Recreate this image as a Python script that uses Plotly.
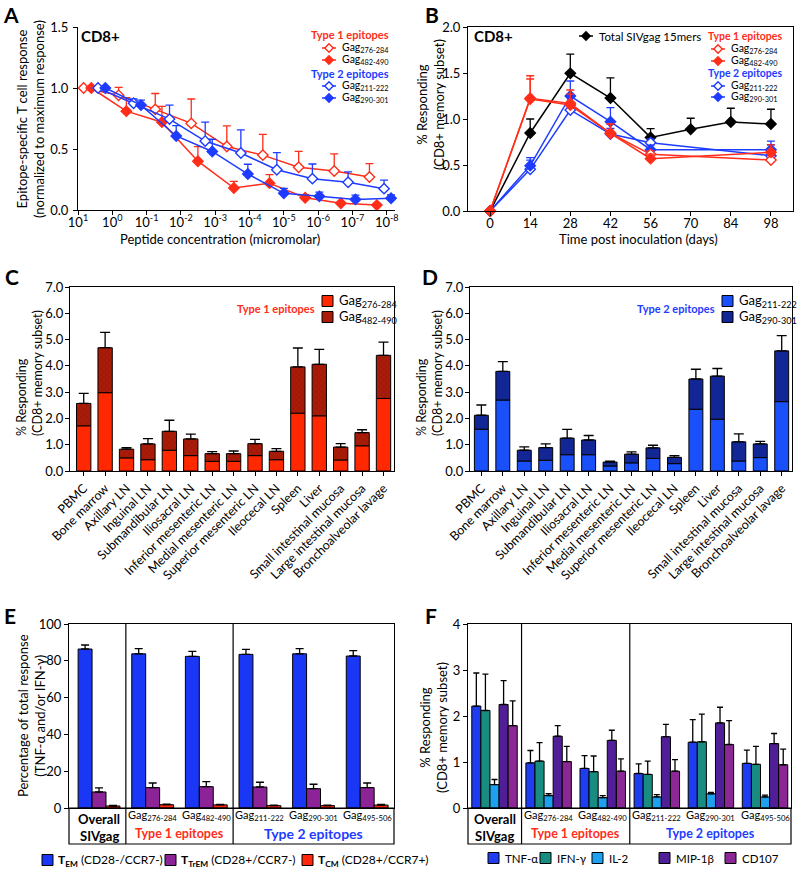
import plotly.graph_objects as go

FONT = "Lato, 'Open Sans', sans-serif"
RED = "rgb(255,45,25)"
BLUE = "rgb(30,60,255)"
BLACK = "black"

# ================= DATA =================
# Panel A: normalized dose response (concentration in micromolar)
a_conc_gag276 = [6.87, 0.656, 0.056, 5.0e-3, 4.6e-4, 4.1e-5, 3.7e-6, 3.4e-7, 3.2e-8]
a_resp_gag276 = [1.00, 0.94, 0.825, 0.71, 0.52, 0.45, 0.35, 0.32, 0.27]
a_sem_gag276 = [0.0, 0.065, 0.13, 0.20, 0.17, 0.17, 0.13, 0.14, 0.11]
a_conc_gag482 = [4.1, 0.39, 0.0357, 3.2e-3, 2.86e-4, 2.62e-5, 2.39e-6, 2.18e-7, 1.95e-8]
a_resp_gag482 = [1.00, 0.81, 0.72, 0.40, 0.18, 0.22, 0.10, 0.055, 0.04]
a_sem_gag482 = [0.0, 0.11, 0.13, 0.12, 0.055, 0.07, 0.025, 0.0, 0.0]
a_conc_gag211 = [2.61, 0.24, 0.0215, 1.96e-3, 1.79e-4, 1.6e-5, 1.47e-6, 1.34e-7, 1.2e-8]
a_resp_gag211 = [1.00, 0.875, 0.745, 0.565, 0.467, 0.33, 0.257, 0.227, 0.175]
a_sem_gag211 = [0.0, 0.035, 0.115, 0.155, 0.19, 0.14, 0.12, 0.085, 0.07]
a_conc_gag290 = [1.6, 0.146, 0.0137, 1.22e-3, 1.12e-4, 1.0e-5, 9.2e-7, 8.2e-8, 7.5e-9]
a_resp_gag290 = [1.00, 0.86, 0.607, 0.48, 0.295, 0.137, 0.112, 0.087, 0.096]
a_sem_gag290 = [0.0, 0.04, 0.085, 0.10, 0.08, 0.04, 0.035, 0.035, 0.027]
a_tick_exp = [1, 0, -1, -2, -3, -4, -5, -6, -7, -8]

# Panel B: kinetics (% responding)
b_days_total = [0, 14, 28, 42, 56, 70, 84, 98]
b_total = [0.0, 0.848, 1.496, 1.228, 0.80, 0.888, 0.967, 0.946]
b_total_sem = [0.0, 0.152, 0.21, 0.218, 0.095, 0.12, 0.15, 0.16]
b_days = [0, 14, 28, 42, 56, 98]
b_gag276 = [0.0, 1.225, 1.17, 0.845, 0.616, 0.554]
b_gag276_sem = [0.0, 0.245, 0.10, 0.10, 0.04, 0.05]
b_gag482 = [0.0, 1.217, 1.152, 0.845, 0.569, 0.638]
b_gag482_sem = [0.0, 0.218, 0.163, 0.105, 0.05, 0.08]
b_gag211 = [0.0, 0.453, 1.098, 0.837, 0.743, 0.60]
b_gag211_sem = [0.0, 0.10, 0.15, 0.06, 0.04, 0.12]
b_gag290 = [0.0, 0.493, 1.25, 0.971, 0.667, 0.667]
b_gag290_sem = [0.0, 0.087, 0.163, 0.152, 0.05, 0.093]

# Panels C/D: tissue distribution (stacked)
tissues = ["PBMC", "Bone marrow", "Axillary LN", "Inguinal LN", "Submandibular LN",
           "Iliosacral LN", "Inferior mesenteric LN", "Medial mesenteric LN",
           "Superior mesenteric LN", "Ileocecal LN", "Spleen", "Liver",
           "Small intestinal mucosa", "Large intestinal mucosa", "Bronchoalveolar lavage"]
c_gag276 = [1.72, 2.98, 0.50, 0.43, 0.79, 0.585, 0.37, 0.37, 0.585, 0.43, 2.20, 2.10, 0.42, 0.96, 2.76]
c_gag482 = [0.85, 1.71, 0.33, 0.60, 0.72, 0.635, 0.29, 0.29, 0.455, 0.32, 1.76, 1.96, 0.49, 0.50, 1.64]
c_sem = [0.38, 0.58, 0.06, 0.20, 0.42, 0.18, 0.08, 0.10, 0.16, 0.10, 0.72, 0.57, 0.13, 0.11, 0.50]
d_gag211 = [1.59, 2.70, 0.38, 0.41, 0.62, 0.62, 0.19, 0.31, 0.48, 0.28, 2.35, 1.97, 0.38, 0.51, 2.64]
d_gag290 = [0.53, 1.09, 0.41, 0.48, 0.63, 0.56, 0.15, 0.33, 0.40, 0.24, 1.15, 1.64, 0.73, 0.52, 1.93]
d_sem = [0.39, 0.37, 0.13, 0.14, 0.33, 0.17, 0.03, 0.09, 0.10, 0.065, 0.37, 0.29, 0.30, 0.10, 0.58]

# Panel E: memory subsets (% of total response)
groups = ["Overall SIVgag", "Gag276-284", "Gag482-490", "Gag211-222", "Gag290-301", "Gag495-506"]
group_labels = ["", "Gag<sub>276-284</sub>", "Gag<sub>482-490</sub>", "Gag<sub>211-222</sub>",
                "Gag<sub>290-301</sub>", "Gag<sub>495-506</sub>"]
e_tem = [86.4, 83.8, 82.4, 83.5, 83.8, 82.6]
e_tem_sem = [2.2, 2.8, 2.7, 2.7, 2.8, 2.9]
e_trem = [8.7, 11.1, 11.6, 11.4, 10.5, 11.1]
e_trem_sem = [2.2, 2.5, 2.7, 2.6, 2.4, 2.5]
e_tcm = [1.1, 1.8, 1.7, 1.3, 1.3, 1.6]
e_tcm_sem = [0.3, 0.3, 0.3, 0.3, 0.3, 0.3]

# Panel F: functions (% responding)
f_tnf = [2.215, 0.98, 0.86, 0.75, 1.43, 0.97]
f_tnf_sem = [0.72, 0.27, 0.28, 0.21, 0.49, 0.29]
f_ifn = [2.12, 1.02, 0.79, 0.73, 1.44, 0.95]
f_ifn_sem = [0.79, 0.40, 0.34, 0.29, 0.60, 0.39]
f_il2 = [0.51, 0.27, 0.225, 0.24, 0.31, 0.24]
f_il2_sem = [0.11, 0.04, 0.045, 0.05, 0.03, 0.04]
f_mip = [2.25, 1.56, 1.47, 1.55, 1.85, 1.40]
f_mip_sem = [0.52, 0.23, 0.22, 0.27, 0.34, 0.22]
f_cd107 = [1.79, 1.01, 0.80, 0.80, 1.38, 0.94]
f_cd107_sem = [0.54, 0.33, 0.27, 0.25, 0.52, 0.34]

# ================= HELPERS =================
W, H = 800, 877
def X(p):
    return p / W
def Y(p):
    return 1 - p / H

shapes = []
annotations = []

def txt(x, y, text, size=12, color=BLACK, bold=False, xanchor="center", xref="paper", **kw):
    annotations.append(dict(
        x=(X(x) if xref == "paper" else x), y=Y(y), xref=xref, yref="paper",
        text=(f"<b>{text}</b>" if bold else text), showarrow=False,
        xanchor=xanchor, yanchor="middle",
        font=dict(family=FONT, size=size, color=color), **kw))

def key_line(x0, x1, y, color, open_marker):
    shapes.append(dict(type="line", xref="paper", yref="paper", x0=X(x0), x1=X(x1),
                       y0=Y(y), y1=Y(y), line=dict(color=color, width=1.5)))
    cx, r = (x0 + x1) / 2, 4.2
    path = (f"M {X(cx - r)} {Y(y)} L {X(cx)} {Y(y - r)} L {X(cx + r)} {Y(y)} "
            f"L {X(cx)} {Y(y + r)} Z")
    shapes.append(dict(type="path", xref="paper", yref="paper", path=path,
                       fillcolor=("white" if open_marker else color),
                       line=dict(color=color, width=1.4)))

def key_square(x0, y, color, size=11):
    shapes.append(dict(type="rect", xref="paper", yref="paper", x0=X(x0), x1=X(x0 + size),
                       y0=Y(y - size / 2), y1=Y(y + size / 2), fillcolor=color,
                       line=dict(color="black", width=1)))

def up_err(vals, color=BLACK, width=4):
    return dict(type="data", symmetric=False, array=vals, arrayminus=[0] * len(vals),
                color=color, thickness=1.3, width=width)

def line_trace(x, y, sem, color, open_marker, xa, ya):
    return go.Scatter(
        x=x, y=y, mode="lines+markers", xaxis=xa, yaxis=ya, cliponaxis=False,
        line=dict(color=color, width=1.5),
        marker=dict(symbol="diamond", size=8, color=("white" if open_marker else color),
                    line=dict(color=color, width=1.4)),
        error_y=up_err(sem, color, 4), showlegend=False)

fig = go.Figure()

# ---- Panel A ----
for x, y, s, c, o in [(a_conc_gag276, a_resp_gag276, a_sem_gag276, RED, True),
                      (a_conc_gag482, a_resp_gag482, a_sem_gag482, RED, False),
                      (a_conc_gag211, a_resp_gag211, a_sem_gag211, BLUE, True),
                      (a_conc_gag290, a_resp_gag290, a_sem_gag290, BLUE, False)]:
    fig.add_trace(line_trace(x, y, s, c, o, "x", "y"))

# ---- Panel B ----
fig.add_trace(line_trace(b_days_total, b_total, b_total_sem, BLACK, False, "x2", "y2"))
for y, s, c, o in [(b_gag211, b_gag211_sem, BLUE, True), (b_gag290, b_gag290_sem, BLUE, False),
                   (b_gag276, b_gag276_sem, RED, True), (b_gag482, b_gag482_sem, RED, False)]:
    fig.add_trace(line_trace(b_days, y, s, c, o, "x2", "y2"))

# ---- Panels C / D ----
C_LIGHT, C_DARK = "rgb(255,40,0)", "rgb(170,28,8)"
D_LIGHT, D_DARK = "rgb(25,80,250)", "rgb(18,38,150)"
BAR_LINE = dict(color="black", width=1)
fig.add_trace(go.Bar(x=tissues, y=c_gag276, xaxis="x3", yaxis="y3", width=0.67,
                     marker=dict(color=C_LIGHT, line=BAR_LINE), showlegend=False))
fig.add_trace(go.Bar(x=tissues, y=c_gag482, base=c_gag276, xaxis="x3", yaxis="y3", width=0.67,
                     marker=dict(color=C_DARK, line=BAR_LINE,
                                 pattern=dict(shape="x", size=4, solidity=0.25,
                                              fgcolor="rgba(90,5,0,0.55)", fillmode="overlay")),
                     error_y=up_err(c_sem, BLACK, 5), showlegend=False))
fig.add_trace(go.Bar(x=tissues, y=d_gag211, xaxis="x4", yaxis="y4", width=0.65,
                     marker=dict(color=D_LIGHT, line=BAR_LINE), showlegend=False))
fig.add_trace(go.Bar(x=tissues, y=d_gag290, base=d_gag211, xaxis="x4", yaxis="y4", width=0.65,
                     marker=dict(color=D_DARK, line=BAR_LINE),
                     error_y=up_err(d_sem, BLACK, 5), showlegend=False))

# ---- Panel E ----
E_COLS = ["rgb(25,55,245)", "rgb(140,35,150)", "rgb(255,40,10)"]
ew = 0.26
for i, (vals, sem) in enumerate([(e_tem, e_tem_sem), (e_trem, e_trem_sem), (e_tcm, e_tcm_sem)]):
    fig.add_trace(go.Bar(x=groups, y=vals, xaxis="x5", yaxis="y5", width=ew, offset=-1.5 * ew + i * ew,
                         marker=dict(color=E_COLS[i], line=BAR_LINE),
                         error_y=up_err(sem, BLACK, 4), showlegend=False))

# ---- Panel F ----
F_COLS = ["rgb(30,60,240)", "rgb(25,140,130)", "rgb(30,160,240)", "rgb(80,30,150)", "rgb(140,40,150)"]
fw = 0.168
for i, (vals, sem) in enumerate([(f_tnf, f_tnf_sem), (f_ifn, f_ifn_sem), (f_il2, f_il2_sem),
                                 (f_mip, f_mip_sem), (f_cd107, f_cd107_sem)]):
    fig.add_trace(go.Bar(x=groups, y=vals, xaxis="x6", yaxis="y6", width=fw, offset=-2.5 * fw + i * fw,
                         marker=dict(color=F_COLS[i], line=BAR_LINE),
                         error_y=up_err(sem, BLACK, 3), showlegend=False))

# ================= AXES =================
def ax(**kw):
    d = dict(showline=True, linecolor="black", linewidth=1.2, ticks="outside", ticklen=4,
             tickwidth=1.2, tickcolor="black", showgrid=False, zeroline=False, automargin=False,
             tickfont=dict(family=FONT, size=13, color="black"))
    d.update(kw)
    return d

layout = dict(
    width=W, height=H, margin=dict(l=0, r=0, t=0, b=0, pad=0, autoexpand=False),
    paper_bgcolor="white", plot_bgcolor="white", barmode="overlay", showlegend=False,
    font=dict(family=FONT, color="black"),
    xaxis=ax(domain=[X(78), X(395)], anchor="y", type="log", range=[1.0, -8.24],
             tickvals=[10.0 ** k for k in a_tick_exp], ticklabelstandoff=-4,
             ticktext=[f"10<sup>{k}</sup>" for k in a_tick_exp]),
    yaxis=ax(domain=[Y(210), Y(27)], anchor="x", range=[0, 1.5], tickvals=[0, 0.5, 1.0, 1.5],
             tickformat=".1f", ticklabelstandoff=2),
    xaxis2=ax(domain=[X(468), X(793)], anchor="y2", range=[-7.7, 105.7], tickvals=b_days_total,
              mirror=True, ticklabelstandoff=-4),
    yaxis2=ax(domain=[Y(211), Y(27)], anchor="x2", range=[0, 2.0], dtick=0.5, tickformat=".1f",
              mirror=True),
    xaxis3=ax(domain=[X(70), X(394)], anchor="y3", range=[-0.64, 14.49], tickangle=-45,
              mirror=True, tickfont=dict(family=FONT, size=12.5, color="black")),
    yaxis3=ax(domain=[Y(471), Y(287)], anchor="x3", range=[0, 7], dtick=1, tickformat=".1f",
              mirror=True, ticklabelstandoff=-1),
    xaxis4=ax(domain=[X(470), X(792)], anchor="y4", range=[-0.53, 14.48], tickangle=-45,
              mirror=True, tickfont=dict(family=FONT, size=12.5, color="black")),
    yaxis4=ax(domain=[Y(471), Y(287)], anchor="x4", range=[0, 7], dtick=1, tickformat=".1f",
              mirror=True, ticklabelstandoff=-1),
    xaxis5=ax(domain=[X(69), X(394)], anchor="y5", range=[-0.56, 5.5], ticks="",
              showticklabels=False, mirror=True),
    yaxis5=ax(domain=[Y(808), Y(624)], anchor="x5", range=[0, 100], dtick=20, mirror=True),
    xaxis6=ax(domain=[X(468), X(791)], anchor="y6", range=[-0.49, 5.48], ticks="",
              showticklabels=False, mirror=True),
    yaxis6=ax(domain=[Y(808), Y(624)], anchor="x6", range=[0, 4], dtick=1, mirror=True),
)

# ================= TEXT & LEGENDS =================
for L, x, y in [("A", 11, 15), ("B", 432, 15), ("C", 12, 277), ("D", 430, 277), ("E", 10, 615), ("F", 431, 615)]:
    txt(x, y, L, size=21, bold=True)

txt(79, 36, "CD8+", size=15, bold=True, xanchor="left")
txt(472, 36, "CD8+", size=15, bold=True, xanchor="left")

# Axis titles
txt(31, 119, "Epitope-specific T cell response<br>(normalized to maximum response)", size=13, textangle=-90)
txt(220, 239, "Peptide concentration (micromolar)", size=13)
txt(430, 105, "% Responding<br>(CD8+ memory subset)", size=13, textangle=-90)
txt(638, 239, "Time post inoculation (days)", size=13)
txt(29, 373, "% Responding<br>(CD8+ memory subset)", size=12.5, textangle=-90, align="left")
txt(429, 373, "% Responding<br>(CD8+ memory subset)", size=12.5, textangle=-90, align="left")
txt(31, 716, "Percentage of total response<br>(TNF-α and/or IFN-γ)", size=13, textangle=-90)
txt(433, 728, "% Responding<br>(CD8+ memory subset)", size=13, textangle=-90)

# Legend A
txt(391, 35, "Type 1 epitopes", size=11, color=RED, bold=True, xanchor="right")
key_line(322, 336, 48, RED, True); txt(340, 48, "Gag<sub>276-284</sub>", size=10.5, xanchor="left")
key_line(322, 336, 60, RED, False); txt(340, 60, "Gag<sub>482-490</sub>", size=10.5, xanchor="left")
txt(391, 73, "Type 2 epitopes", size=11, color=BLUE, bold=True, xanchor="right")
key_line(322, 336, 86, BLUE, True); txt(340, 86, "Gag<sub>211-222</sub>", size=10.5, xanchor="left")
key_line(322, 336, 98, BLUE, False); txt(340, 98, "Gag<sub>290-301</sub>", size=10.5, xanchor="left")

# Legend B
key_line(579, 593, 36, BLACK, False); txt(597, 36, "Total SIVgag 15mers", size=11.5, xanchor="left")
txt(784, 36, "Type 1 epitopes", size=10.5, color=RED, bold=True, xanchor="right")
key_line(711, 725, 49, RED, True); txt(729, 49, "Gag<sub>276-284</sub>", size=10.5, xanchor="left")
key_line(711, 725, 61, RED, False); txt(729, 61, "Gag<sub>482-490</sub>", size=10.5, xanchor="left")
txt(784, 73, "Type 2 epitopes", size=10.5, color=BLUE, bold=True, xanchor="right")
key_line(711, 725, 86, BLUE, True); txt(729, 86, "Gag<sub>211-222</sub>", size=10.5, xanchor="left")
key_line(711, 725, 97, BLUE, False); txt(729, 97, "Gag<sub>290-301</sub>", size=10.5, xanchor="left")

# Legend C
txt(317, 308, "Type 1 epitopes", size=11, color=RED, bold=True, xanchor="right")
key_square(322, 301, C_LIGHT); txt(337, 301, "Gag<sub>276-284</sub>", size=13, xanchor="left")
key_square(322, 317, C_DARK); txt(337, 317, "Gag<sub>482-490</sub>", size=13, xanchor="left")
# Legend D
txt(717, 308, "Type 2 epitopes", size=11, color=BLUE, bold=True, xanchor="right")
key_square(722, 301, D_LIGHT); txt(737, 301, "Gag<sub>211-222</sub>", size=13, xanchor="left")
key_square(722, 317, D_DARK); txt(737, 317, "Gag<sub>290-301</sub>", size=13, xanchor="left")

# Panel E/F lower label boxes and dividers
for xa, x0, x1 in [("x5", 69, 394), ("x6", 468, 791)]:
    shapes.append(dict(type="rect", xref="paper", yref="paper", x0=X(x0), x1=X(x1), y0=Y(844), y1=Y(808),
                       line=dict(color="black", width=1.2)))
    for d in [0.5, 2.5]:
        shapes.append(dict(type="line", xref=xa, yref="paper", x0=d, x1=d, y0=Y(844), y1=Y(624),
                           line=dict(color="black", width=1.2)))
    for i, lab in enumerate(group_labels):
        if lab:
            txt(i, 815, lab, size=11, xref=xa)
    txt(0, 819, "Overall", size=13, bold=True, xref=xa)
    txt(0, 836, "SIVgag", size=13, bold=True, xref=xa)
    txt(1.5, 833, "Type 1 epitopes", size=12.5, color=RED, bold=True, xref=xa)
txt(4, 833, "Type 2 epitopes", size=14, color=BLUE, bold=True, xref="x5")
txt(4, 833, "Type 2 epitopes", size=12.5, color=BLUE, bold=True, xref="x6")

# Legend E
for x0, col, lab in [(42, E_COLS[0], "<b>T<sub>EM</sub></b> (CD28-/CCR7-)"),
                     (165, E_COLS[1], "<b>T<sub>TrEM</sub></b> (CD28+/CCR7-)"),
                     (302, E_COLS[2], "<b>T<sub>CM</sub></b> (CD28+/CCR7+)")]:
    key_square(x0, 860, col)
    txt(x0 + 14, 860, lab, size=12, xanchor="left")
# Legend F
for x0, col, lab in [(488, F_COLS[0], "TNF-α"), (540, F_COLS[1], "IFN-γ"), (592, F_COLS[2], "IL-2"),
                     (659, F_COLS[3], "MIP-1β"), (725, F_COLS[4], "CD107")]:
    key_square(x0, 858, col)
    txt(x0 + 15, 858, lab, size=11.5, xanchor="left")

layout["shapes"] = shapes
layout["annotations"] = annotations
fig.update_layout(**layout)
fig.write_html("out.html", config={"displayModeBar": False},
               post_script="document.body.style.margin='0px';")
